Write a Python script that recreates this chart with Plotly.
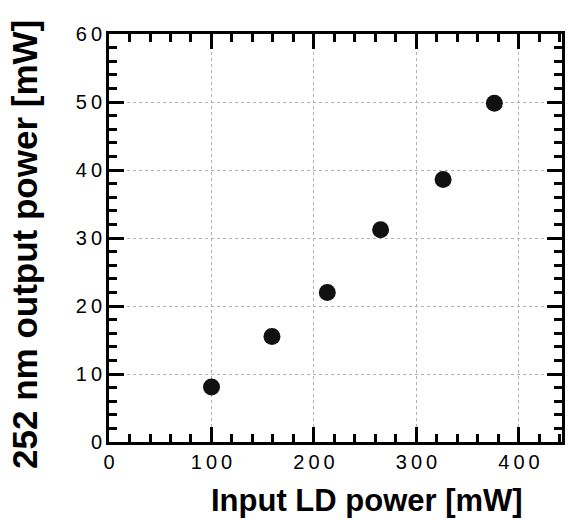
import plotly.graph_objects as go

input_power = [100, 159, 213, 265, 326, 376]
output_power = [8.1, 15.5, 22.0, 31.2, 38.6, 49.8]

x_tick_vals = [0, 100, 200, 300, 400]
x_tick_text = ["0", "1\u20090\u20090", "2\u20090\u20090", "3\u20090\u20090", "4\u20090\u20090"]
y_tick_vals = [0, 10, 20, 30, 40, 50, 60]
y_tick_text = ["0", "1\u20090", "2\u20090", "3\u20090", "4\u20090", "5\u20090", "6\u20090"]

fig = go.Figure()
fig.add_trace(go.Scatter(
    x=input_power, y=output_power, mode="markers",
    marker=dict(size=17, color="#111111"), showlegend=False,
))

axis_common = dict(
    showline=True, linecolor="black", linewidth=3, mirror="allticks",
    ticks="inside", ticklen=15, tickwidth=3, tickcolor="black",
    showgrid=True, gridcolor="#b0b0b0", griddash="dot", gridwidth=1,
    zeroline=False, automargin=False,
    tickfont=dict(family="Liberation Sans, Arial", size=20, color="black"),
)

fig.update_xaxes(
    range=[0, 442], tickvals=x_tick_vals, ticktext=x_tick_text,
    minor=dict(ticks="inside", ticklen=8, tickwidth=3, tickcolor="black", dtick=20, showgrid=False),
    **axis_common,
)
fig.update_yaxes(
    range=[0, 60], tickvals=y_tick_vals, ticktext=y_tick_text,
    minor=dict(ticks="inside", ticklen=8, tickwidth=3, tickcolor="black", dtick=2, showgrid=False),
    **axis_common,
)

fig.add_annotation(
    text="Input LD power [mW]", xref="paper", yref="paper",
    x=0.569, y=0, yshift=-58, showarrow=False, xanchor="center", yanchor="middle",
    font=dict(family="Liberation Sans, Arial", size=31, color="black", weight="bold"),
)
fig.add_annotation(
    text="252 nm output power [mW]", xref="paper", yref="paper",
    x=0, xshift=-84, y=0.483, showarrow=False, textangle=-90,
    xanchor="center", yanchor="middle",
    font=dict(family="Liberation Sans, Arial", size=35, color="black", weight="bold"),
)

fig.update_layout(
    width=568, height=520,
    margin=dict(l=109, r=6, t=34, b=78),
    plot_bgcolor="white", paper_bgcolor="white",
)

fig.write_html(
    "out.html",
    config={"displayModeBar": False},
    post_script="document.body.style.margin='0';document.body.style.overflow='hidden';",
)
